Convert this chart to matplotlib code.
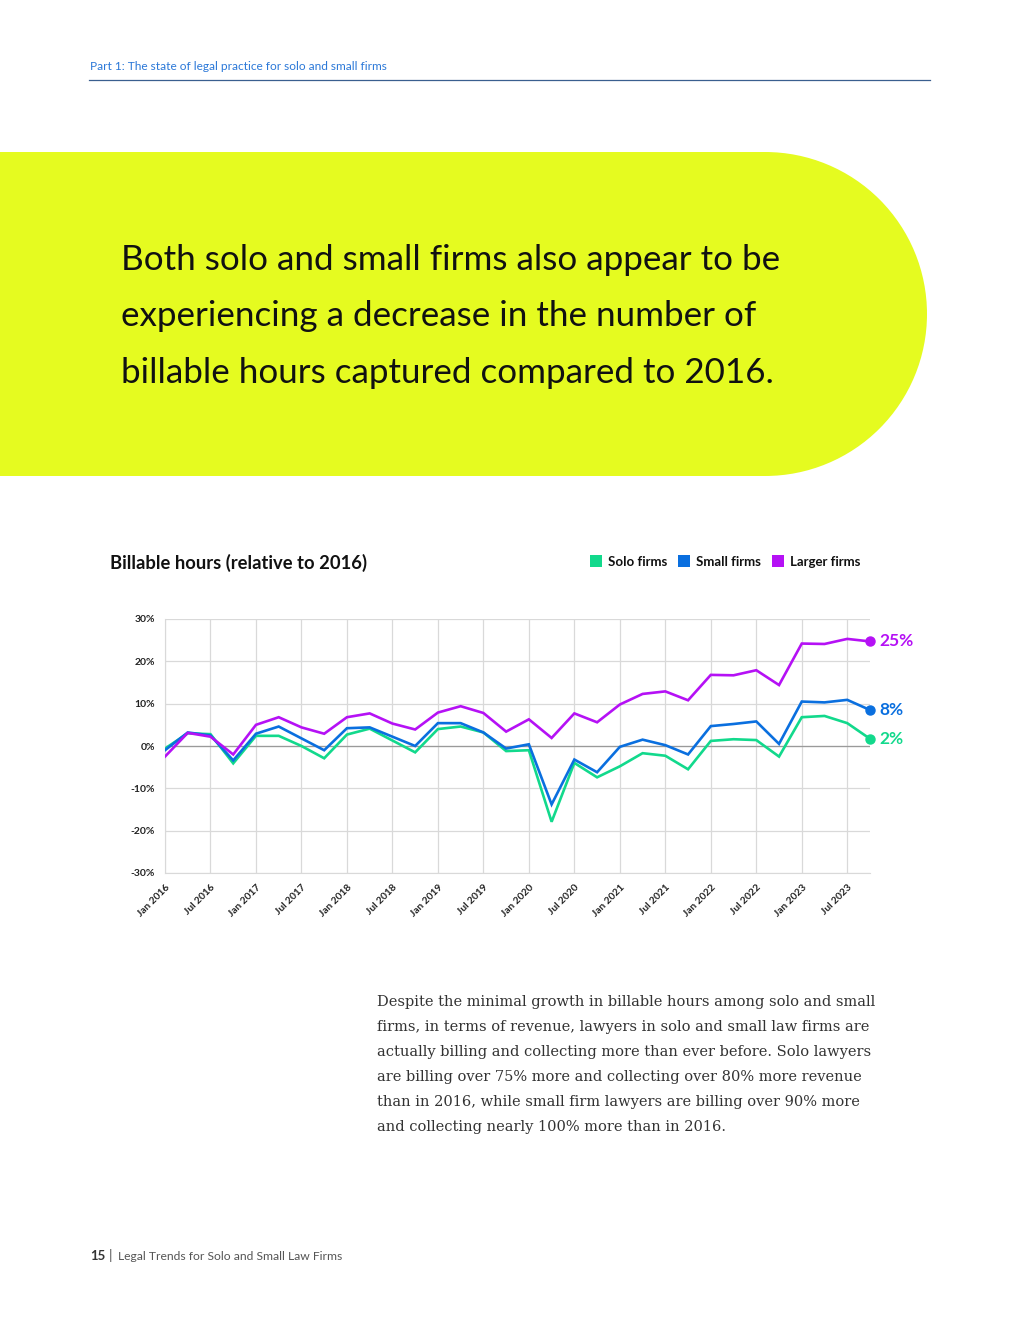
import numpy as np
import matplotlib
matplotlib.use("Agg")
import matplotlib.pyplot as plt
from matplotlib.patches import Rectangle, Circle

# quarterly values, Q1 2016 .. Q4 2023 (% relative to 2016)
solo = [-0.6, 3.0, 2.8, -4.1, 2.4, 2.4, 0.0, -2.9, 2.7, 4.1, 1.3, -1.5,
        4.0, 4.6, 3.2, -1.2, -1.0, -17.9, -4.0, -7.4, -4.8, -1.7, -2.3, -5.5,
        1.2, 1.6, 1.4, -2.5, 6.8, 7.1, 5.4, 1.7]
small = [-1.0, 3.2, 2.5, -3.4, 2.9, 4.6, 1.8, -1.0, 4.2, 4.4, 2.2, 0.0,
         5.4, 5.4, 3.2, -0.6, 0.4, -13.8, -3.2, -6.2, -0.2, 1.5, 0.2, -2.0,
         4.7, 5.2, 5.8, 0.5, 10.5, 10.3, 10.9, 8.5]
larger = [-2.5, 3.1, 2.2, -2.0, 5.0, 6.8, 4.4, 2.9, 6.8, 7.7, 5.3, 3.9,
          7.9, 9.4, 7.8, 3.4, 6.3, 1.9, 7.7, 5.6, 9.8, 12.3, 12.9, 10.8,
          16.8, 16.7, 17.9, 14.4, 24.2, 24.1, 25.3, 24.7]
series_names = ["Solo firms", "Small firms", "Larger firms"]
end_labels = ["2%", "8%", "25%"]
colors = ["#12d98c", "#0a6fdf", "#b511f5"]

tick_labels = []
for yr in range(2016, 2024):
    tick_labels += ["Jan %d" % yr, "Jul %d" % yr]
y_ticks = [-30, -20, -10, 0, 10, 20, 30]

W, H = 1020, 1320
fig = plt.figure(figsize=(W / 100, H / 100), dpi=100)
fig.patch.set_facecolor("white")

# page layer in pixel coords
bg = fig.add_axes([0, 0, 1, 1])
bg.set_xlim(0, W)
bg.set_ylim(H, 0)
bg.axis("off")

head = "Lato"
bg.text(90, 70, "Part 1: The state of legal practice for solo and small firms",
        fontsize=8.6, color="#2b78d8", family=head, va="baseline")
bg.plot([89, 930], [79.5, 79.5], color="#3a5f8f", lw=0.9)

# yellow band with rounded right end
yel = "#e5fb20"
bg.add_patch(Rectangle((0, 152), 765, 324, color=yel, lw=0))
bg.add_patch(Circle((765, 314), 162, color=yel, lw=0))

headline = ["Both solo and small firms also appear to be",
            "experiencing a decrease in the number of",
            "billable hours captured compared to 2016."]
for i, line in enumerate(headline):
    bg.text(121, 270 + i * 56.5, line, fontsize=25.2, family=head,
            color="#111111", va="baseline")

bg.text(110, 569, "Billable hours (relative to 2016)", fontsize=13.2,
        family=head, weight="bold", color="#111111", va="baseline")

legend_x = [590, 678, 772]
for lx, name, c in zip(legend_x, series_names, colors):
    bg.add_patch(Rectangle((lx, 555), 12, 12, color=c, lw=0))
    bg.text(lx + 18, 566, name, fontsize=9.5, family=head, weight="bold",
            color="#111111", va="baseline")

body = ["Despite the minimal growth in billable hours among solo and small",
        "firms, in terms of revenue, lawyers in solo and small law firms are",
        "actually billing and collecting more than ever before. Solo lawyers",
        "are billing over 75% more and collecting over 80% more revenue",
        "than in 2016, while small firm lawyers are billing over 90% more",
        "and collecting nearly 100% more than in 2016."]
for i, line in enumerate(body):
    bg.text(377, 1006 + i * 25, line, fontsize=10.5, family="DejaVu Serif",
            color="#333333", va="baseline")

bg.text(90, 1260, "15", fontsize=9.5, family=head, weight="bold",
        color="#333333", va="baseline")
bg.text(109, 1260, "|", fontsize=10, family=head, color="#555555", va="baseline")
bg.text(118, 1260, "Legal Trends for Solo and Small Law Firms", fontsize=8.7,
        family=head, color="#555555", va="baseline")

# chart
ax = fig.add_axes([165 / W, 1 - 873 / H, 705 / W, 254 / H])
x = np.arange(len(solo))
for vals, c in zip([solo, small, larger], colors):
    ax.plot(x, vals, color=c, lw=1.9, solid_joinstyle="miter", zorder=3)
    ax.plot(x[-1], vals[-1], "o", color=c, ms=6.5, zorder=4, clip_on=False)

ax.set_xlim(0, 31)
ax.set_ylim(-30, 30)
ax.set_xticks(np.arange(0, 32, 2))
ax.set_xticklabels(tick_labels, rotation=45, ha="right", rotation_mode="anchor",
                   fontsize=7.3, family=head, weight="bold")
ax.set_yticks(y_ticks)
ax.set_yticklabels(["%d%%" % v for v in y_ticks], fontsize=7.5, family=head,
                   weight="bold")
ax.tick_params(length=0, pad=7, colors="#222222")
ax.grid(True, color="#d9d9d9", lw=0.9)
ax.axhline(0, color="#9a9a9a", lw=0.9, zorder=2)
for s in ["top", "right"]:
    ax.spines[s].set_visible(False)
ax.spines["left"].set_color("#d9d9d9")
ax.spines["bottom"].set_color("#d9d9d9")
ax.set_axisbelow(True)

for vals, lab, c in zip([solo, small, larger], end_labels, colors):
    ax.annotate(lab, (x[-1], vals[-1]), xytext=(7, 0), textcoords="offset points",
                fontsize=12.5, family=head, weight="bold", color=c,
                va="center", ha="left", annotation_clip=False)

fig.savefig("out.png", dpi=100, facecolor="white")
